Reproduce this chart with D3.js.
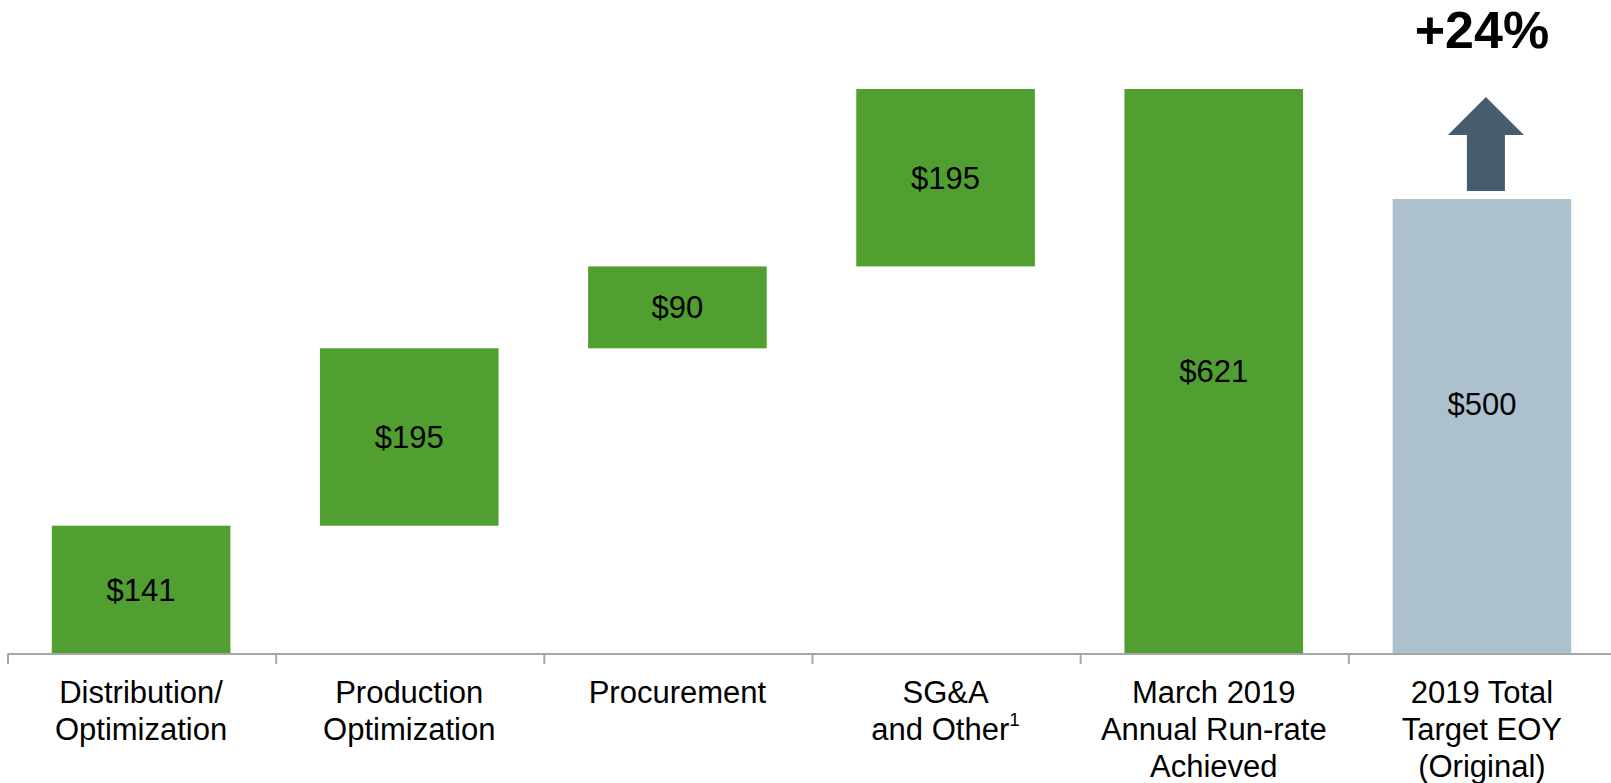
<!DOCTYPE html>
<html>
<head>
<meta charset="utf-8">
<script src="https://cdn.jsdelivr.net/npm/d3@7"></script>
<style>
  body { margin: 0; background: #fff; }
  svg { display: block; font-family: "Liberation Sans", Arial, sans-serif; }
</style>
</head>
<body>
<svg class="chart"></svg>
<script>
// categories (each one split into its label lines) and footnote marks
let categories = ["Distribution", "Production", "Procurement", "SG&A", "March 2019", "Target"];
let labelLines = [
  ["Distribution/", "Optimization"],
  ["Production", "Optimization"],
  ["Procurement"],
  ["SG&A", "and Other"],
  ["March 2019", "Annual Run-rate", "Achieved"],
  ["2019 Total", "Target EOY", "(Original)"]
];
let footnotes = ["", "", "", "1", "", ""];

// savings per bucket ($M), the achieved total and the original target
let steps = [141, 195, 90, 195];
let achieved = 621;
let target = 500;

let width = 1611;
let height = 783;

let green = "#519E31";
let steel = "#ADC0CE";
let arrowColor = "#465D70";

// build waterfall rows: start / end of every bar
let rows = [];
let running = 0;
steps.forEach(function(v, i) {
  rows.push({ cat: categories[i], start: running, end: running + v, value: v, color: green });
  running += v;
});
rows.push({ cat: categories[4], start: 0, end: achieved, value: achieved, color: green });
rows.push({ cat: categories[5], start: 0, end: target, value: target, color: steel, target: true });

let svg = d3.select(".chart")
  .attr("width", width)
  .attr("height", height);

let x = d3.scaleBand()
  .domain(categories)
  .range([7, 1616])
  .paddingInner(0.334)
  .paddingOuter(0.167);

let y = d3.scaleLinear()
  .domain([0, achieved])
  .range([654, 89]);

// bars
svg.append("g")
  .selectAll("rect")
  .data(rows)
  .enter().append("rect")
  .attr("x", function(d) { return x(d.cat); })
  .attr("width", x.bandwidth())
  .attr("y", function(d) { return y(d.end); })
  .attr("height", function(d) { return y(d.start) - y(d.end); })
  .attr("fill", function(d) { return d.color; });

// value labels
svg.append("g")
  .selectAll("text")
  .data(rows)
  .enter().append("text")
  .attr("x", function(d) { return x(d.cat) + x.bandwidth() / 2; })
  .attr("y", function(d) {
    let mid = (y(d.start) + y(d.end)) / 2;
    return d.target ? mid - 22 : mid;
  })
  .attr("dy", "0.35em")
  .attr("text-anchor", "middle")
  .attr("font-size", 31)
  .attr("fill", "#000")
  .text(function(d) { return "$" + d.value; });

// axis: ticks sit on band edges, so draw them by hand from the scale
let gap = x.step() * x.paddingInner() / 2;
let axis = svg.append("g").attr("class", "axis");
axis.append("line")
  .attr("x1", x.range()[0] + 0.5).attr("x2", width)
  .attr("y1", y(0)).attr("y2", y(0))
  .attr("stroke", "#A6A6A6").attr("stroke-width", 2);

let edges = categories.map(function(c) { return x(c) - gap; });
axis.selectAll(".edge")
  .data(edges)
  .enter().append("line")
  .attr("class", "edge")
  .attr("x1", function(d) { return d + 1; }).attr("x2", function(d) { return d + 1; })
  .attr("y1", y(0)).attr("y2", y(0) + 10)
  .attr("stroke", "#A6A6A6").attr("stroke-width", 2);

// category labels
let labels = axis.selectAll(".cat")
  .data(categories)
  .enter().append("text")
  .attr("class", "cat")
  .attr("text-anchor", "middle")
  .attr("font-size", 31)
  .attr("fill", "#000");

labels.each(function(c, i) {
  let t = d3.select(this);
  let cx = x(c) + x.bandwidth() / 2;
  labelLines[i].forEach(function(line, j) {
    t.append("tspan")
      .attr("x", cx)
      .attr("y", y(0) + 49 + j * 37)
      .text(line);
    if (j === labelLines[i].length - 1 && footnotes[i]) {
      t.append("tspan")
        .attr("font-size", 19)
        .attr("dy", -14)
        .text(footnotes[i]);
    }
  });
});

// up arrow and growth annotation above the target bar
let ax = x(categories[5]) + x.bandwidth() / 2 + 4;
let aBottom = y(target) - 8;
let aTop = aBottom - 94;
let headBase = aTop + 38;
let arrowPath = d3.path();
arrowPath.moveTo(ax, aTop);
arrowPath.lineTo(ax + 38, headBase);
arrowPath.lineTo(ax + 19, headBase);
arrowPath.lineTo(ax + 19, aBottom);
arrowPath.lineTo(ax - 19, aBottom);
arrowPath.lineTo(ax - 19, headBase);
arrowPath.lineTo(ax - 38, headBase);
arrowPath.closePath();

svg.append("path")
  .attr("d", arrowPath.toString())
  .attr("fill", arrowColor);

svg.append("text")
  .attr("x", ax - 4)
  .attr("y", 48)
  .attr("text-anchor", "middle")
  .attr("font-size", 52)
  .attr("font-weight", "bold")
  .attr("fill", "#000")
  .text(d3.format("+.0%")(achieved / target - 1));
</script>
</body>
</html>
